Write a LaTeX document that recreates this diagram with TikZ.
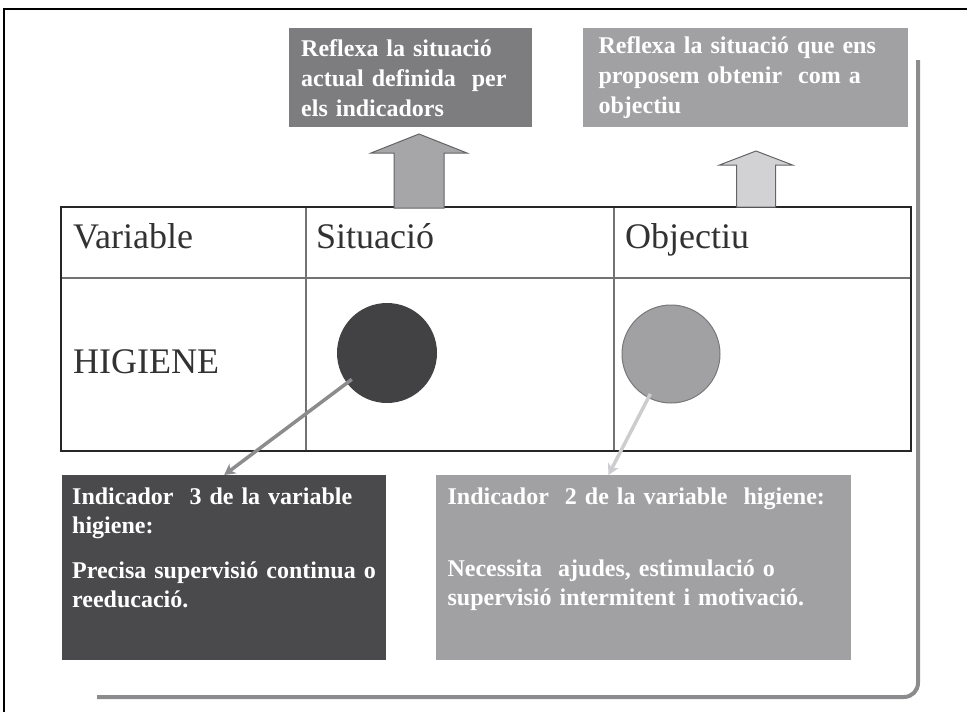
\documentclass[tikz,border=0pt]{standalone}
\usepackage{fontspec}
\setmainfont{Liberation Serif}
\usetikzlibrary{arrows.meta,positioning,calc}
\definecolor{boxdark}{RGB}{74,74,76}
\definecolor{boxmid}{RGB}{125,125,127}
\definecolor{boxlight}{RGB}{161,161,163}
\definecolor{circdark}{RGB}{66,66,68}
\definecolor{circedge}{RGB}{120,120,122}
\definecolor{arrowmid}{RGB}{166,166,168}
\definecolor{arrowlight}{RGB}{210,210,212}
\definecolor{arrowedge}{RGB}{100,100,102}
\definecolor{linkdark}{RGB}{140,140,142}
\definecolor{linklight}{RGB}{205,205,207}
\definecolor{shadowgray}{RGB}{140,140,142}
\definecolor{tabletext}{RGB}{50,50,50}

\begin{document}
\begin{tikzpicture}[x=1pt,y=-1pt,
    topbox/.style={fill=#1, anchor=north west, inner ysep=0pt, inner xsep=12pt, minimum height=99pt,
        align=left, text=white, font=\bfseries\fontsize{24}{30}\selectfont},
    indbox/.style={fill=#1, anchor=north west, inner ysep=12pt, inner xsep=10pt, text height=17pt, text depth=144pt,
        align=left, text=white, font=\bfseries\fontsize{24}{29}\selectfont},
    cell/.style={anchor=base west, inner sep=0pt, text=tabletext, font=\fontsize{36}{40}\selectfont},
    dot/.style={circle, inner sep=0pt, minimum size=#1},
    pointer/.style={draw=#1, line width=3.5pt, -{Stealth[length=11pt,width=12pt]}},
    bigarrow/.style={draw=arrowedge, line width=1pt, line join=miter},
    tabouter/.style={line width=2.5pt, draw=black!85},
    tabinner/.style={line width=1.5pt, draw=black!55}]
    \useasboundingbox (0,0) rectangle (967,712);

    % frame and shadow
    \draw[line width=1.2pt] (4,712) -- (4,9) -- (967,9);
    \draw[line width=4pt, draw=shadowgray, rounded corners=14pt] (918,60) -- (918,697) -- (97,697);

    % top boxes
    \node[topbox=boxmid, text width=219pt] (actual) at (289,28) {Reflexa la situació\\actual definida \ per\\els indicadors};
    \node[topbox=boxlight, text width=293pt, inner xsep=16pt, right=50pt of actual] (goal) {Reflexa la situació que ens\\proposem obtenir \ com a\\objectiu};

    % table
    \coordinate (tnw) at (61,207);
    \coordinate (tse) at (911,451);
    \draw[tabinner] (306,207) -- (306,451);
    \draw[tabinner] (614,207) -- (614,451);
    \draw[tabinner] (61,278) -- (911,278);
    \draw[tabouter] (tnw) rectangle (tse);
    \node[cell] (var) at (73,248) {Variable};
    \node[cell] (sithead) at (316,248) {Situació};
    \node[cell] (objhead) at (625,248) {Objectiu};
    \node[cell] (hyg) at (73,373) {HIGIENE};

    % up arrows
    \coordinate (up1) at (419,208);
    \coordinate (up2) at (756,207);
    \draw[bigarrow, fill=arrowmid] (up1) ++(-25,0) -- ++(0,-55) -- ++(-23,0) -- ++(48,-19) -- ++(48,19) -- ++(-23,0) -- ++(0,55) -- cycle;
    \draw[bigarrow, fill=arrowlight] (up2) ++(-19.5,0) -- ++(0,-42) -- ++(-17,0) -- ++(36.5,-14) -- ++(36.5,14) -- ++(-17,0) -- ++(0,42) -- cycle;

    % circles
    \node[dot=100pt, fill=circdark] (sit) at (387,353) {};
    \node[dot=98pt, fill=boxlight, draw=circedge, line width=1pt] (obj) at (671,354) {};

    % indicator boxes
    \node[indbox=boxdark, text width=304pt] (ind3) at (62,475) {Indicador \ 3 de la variable\\higiene:\\[16pt]Precisa supervisió continua o\\reeducació.};
    \node[indbox=boxlight, text width=391pt, inner xsep=12pt, right=49pt of ind3] (ind2) {Indicador \ 2 de la variable \ higiene:\\[43pt]Necessita \ ajudes, estimulació o\\supervisió intermitent i motivació.};

    \coordinate (c2) at ([xshift=173pt]ind2.north west);
    \draw[pointer=linkdark, shorten <=44pt] (sit.center) -- (ind3.north);
    \draw[pointer=linklight, shorten <=45pt] (obj.center) -- (c2);
\end{tikzpicture}
\end{document}
